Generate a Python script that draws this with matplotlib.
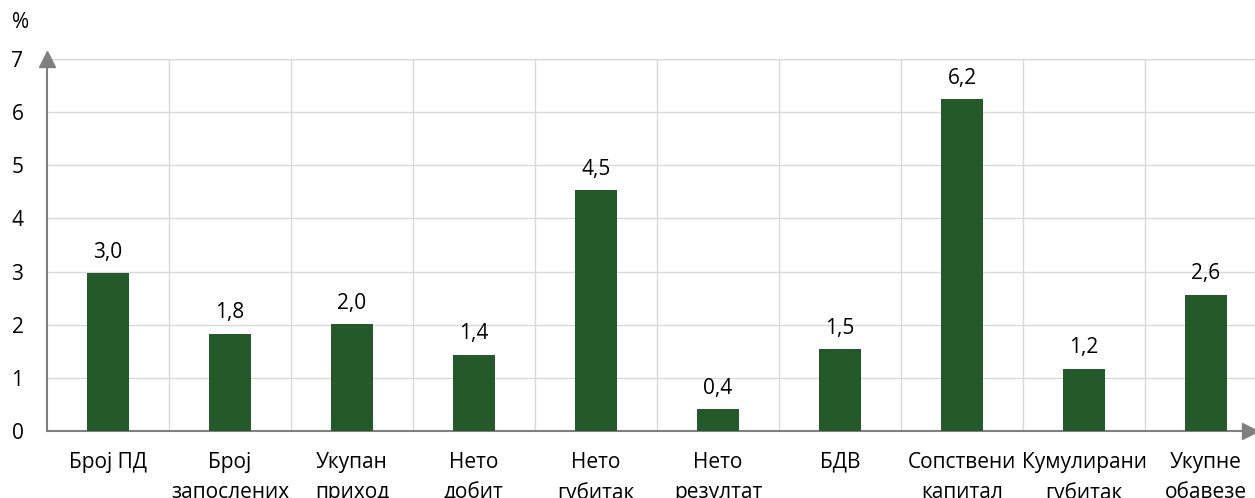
import matplotlib.pyplot as plt
import numpy as np

# data
categories = ["Број ПД", "Број\nзапослених", "Укупан\nприход", "Нето\nдобит",
              "Нето\nгубитак", "Нето\nрезултат", "БДВ", "Сопствени\nкапитал",
              "Кумулирани\nгубитак", "Укупне\nобавезе"]
values = [2.97, 1.83, 2.01, 1.43, 4.53, 0.41, 1.54, 6.24, 1.17, 2.56]

plt.rcParams['font.family'] = ['Open Sans', 'DejaVu Sans']
FS = 15

fig = plt.figure(figsize=(12.55, 4.98), dpi=100)
# axes spans slightly past the right edge of the figure, like the original
ax = fig.add_axes([47 / 1255, 67 / 498, 1220 / 1255, 372 / 498])

x = np.arange(len(categories))
ax.bar(x, values, width=0.34, color="#245a29", zorder=3)
for xi, v in zip(x, values):
    ax.text(xi, v + 0.2, "{:.1f}".format(v).replace(".", ","),
            ha="center", va="bottom", fontsize=FS, color="black")

ax.set_xlim(-0.5, len(categories) - 0.5)
ax.set_ylim(0, 7)
ax.set_yticks(range(0, 8))
ax.set_xticks(x)
ax.set_xticklabels(categories, fontsize=FS, linespacing=1.55)
ax.tick_params(axis="x", length=0, pad=15)
ax.tick_params(axis="y", length=0, pad=17, labelsize=FS)

# grid
ax.set_xticks(np.arange(0.5, len(categories) - 0.5), minor=True)
ax.tick_params(axis="x", which="minor", length=0)
ax.grid(axis="y", color="#d9d9d9", linewidth=1, zorder=0)
ax.grid(axis="x", which="minor", color="#d9d9d9", linewidth=1, zorder=0)
ax.grid(axis="x", which="major", visible=False)
ax.axhline(7, color="#d9d9d9", linewidth=1, zorder=0)

for s in ["top", "right"]:
    ax.spines[s].set_visible(False)
for s in ["left", "bottom"]:
    ax.spines[s].set_color("#808080")
    ax.spines[s].set_linewidth(1.5)

# arrow heads on axes
ax.plot(0, 1, marker="^", markersize=11, color="#808080",
        transform=ax.transAxes, clip_on=False, zorder=5)
ax.plot((1250 - 47) / 1220, 0, marker=">", markersize=11, color="#808080",
        transform=ax.transAxes, clip_on=False, zorder=5)

fig.text(12 / 1255, 1 - 22 / 498, "%", fontsize=FS, va="center", ha="left")

fig.savefig("out.png", dpi=100)
